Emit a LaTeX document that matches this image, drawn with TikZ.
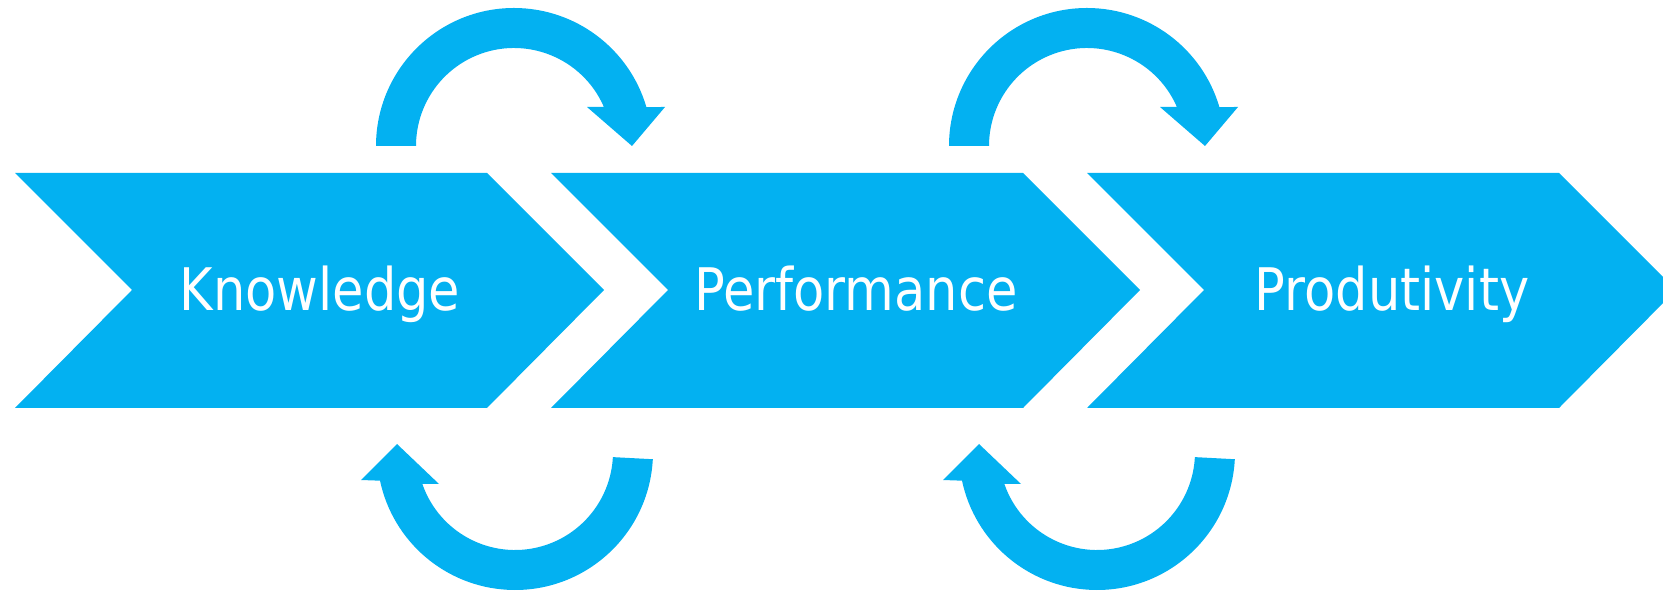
\documentclass[tikz,border=0pt]{standalone}
\usepackage{fontspec}
\usepackage{xcolor}
\usepackage{tikz}
\usetikzlibrary{calc}

\newfontfamily\chevfont[FakeStretch=0.87]{DejaVu Sans}
\definecolor{chevblue}{HTML}{03B1F1}

\begin{document}
\begin{tikzpicture}[x=0.02cm, y=0.02cm,
    chevtext/.style={anchor=base, text=white, inner sep=0pt, font=\chevfont\fontsize{33.4}{40}\selectfont}]

\useasboundingbox (0,0) rectangle (1663,591);
\clip (0,0) rectangle (1663,591);

% Chevrons
\foreach \L/\name/\word in {
    15/know/{Knowledge},
    551/perf/{Performance},
    1087/prod/{Produtivity}
} {
    \fill[chevblue] (\L,418) -- ++(472,0) -- ++(117,-117) -- ++(-117,-118)
        -- ++(-472,0) -- ++(117,118) -- cycle;
    \node[chevtext] (\name) at (\L+305,280) {\word};
}

% Circular arrows above
\foreach \cx/\name in {514/topA, 1087/topB} {
    \coordinate (\name) at (\cx,445);
    \fill[chevblue] (\name) ++(180:138) arc[start angle=180, end angle=16.4, radius=138]
        -- ($(\name)+(151,39)$) -- ($(\name)+(118,0)$) -- ($(\name)+(73,39)$)
        -- ($(\name)+(23.45:98)$) arc[start angle=23.45, end angle=180, radius=98] -- cycle;
}

% Circular arrows below
\foreach \cx/\name in {515/botA, 1097/botB} {
    \coordinate (\name) at (\cx,139);
    \fill[chevblue] (\name) ++(-3:138) arc[start angle=-3, end angle=-168, radius=138]
        -- ($(\name)+(-154,-28)$) -- ($(\name)+(-118,8)$) -- ($(\name)+(-76,-32)$)
        -- ($(\name)+(-161:98)$) arc[start angle=-161, end angle=-3, radius=98] -- cycle;
}

\end{tikzpicture}
\end{document}
